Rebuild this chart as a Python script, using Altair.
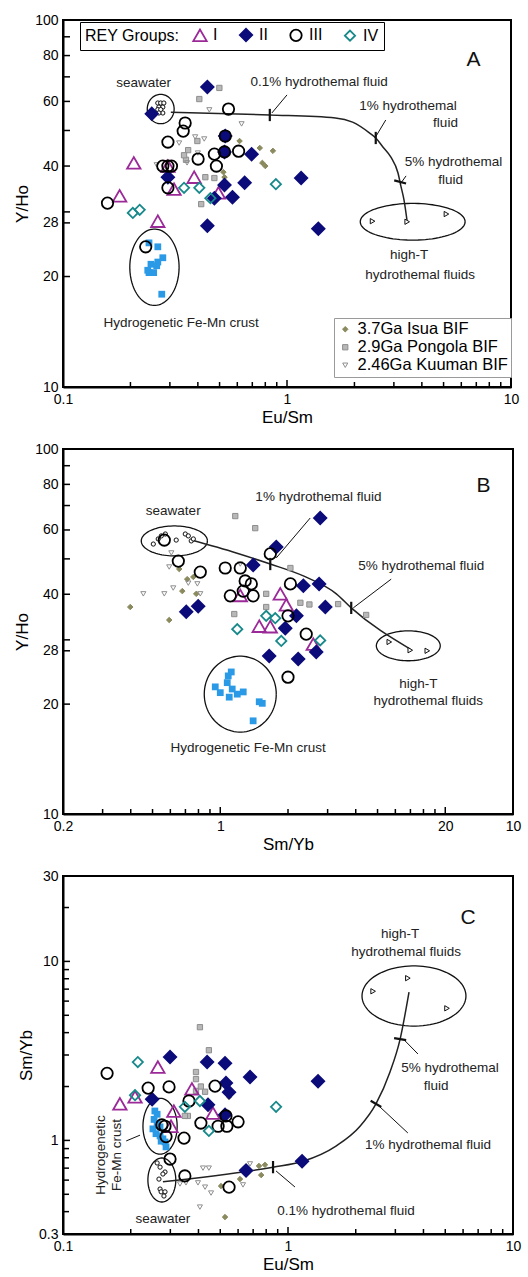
import altair as alt
import numpy as np
import pandas as pd

FONT = "Liberation Sans"

GROUPS = ["I", "II", "III", "IV"]
GROUP_STROKE = ["#9B2A98", "#0B0B7A", "#000000", "#17898A"]
GROUP_FILL = ["transparent", "#0B0B7A", "transparent", "transparent"]
GROUP_SHAPE = ["triangle-up", "diamond", "circle", "diamond"]
GROUP_SIZE = [180, 105, 260, 150]

BIF = ["3.7Ga Isua BIF", "2.9Ga Pongola BIF", "2.46Ga Kuuman BIF"]
BIF_STROKE = ["#8A8A5E", "#8E8E8E", "#8E8E8E"]
BIF_FILL = ["#8A8A5E", "#B8B8B8", "transparent"]
BIF_SHAPE = ["diamond", "square", "triangle-down"]
BIF_SIZE = [30, 26, 40]

# ---------------- Panel A : Y/Ho vs Eu/Sm ----------------
A_I_x = [0.207, 0.294, 0.385, 0.313, 0.494, 0.179, 0.265]
A_I_y = [40.8, 40.0, 37.3, 34.6, 33.8, 33.2, 28.3]
A_II_x = [0.441, 0.249, 0.53, 0.526, 0.695, 1.156, 0.647, 0.526, 0.294, 0.571, 0.474, 0.441, 1.38]
A_II_y = [65.7, 55.5, 48.3, 43.7, 43.1, 37.1, 36.0, 35.5, 37.3, 32.9, 32.7, 27.5, 27.0]
A_III_x = [0.548, 0.351, 0.344, 0.294, 0.401, 0.474, 0.526, 0.608, 0.484, 0.279, 0.294, 0.305, 0.294, 0.158, 0.234, 0.53]
A_III_y = [57.2, 52.4, 49.8, 46.5, 41.8, 43.1, 43.7, 43.9, 40.0, 40.0, 40.0, 40.0, 34.9, 31.7, 24.1, 48.3]
A_IV_x = [0.892, 0.347, 0.406, 0.455, 0.205, 0.220]
A_IV_y = [35.7, 34.9, 34.9, 32.7, 29.8, 30.4]
A_isua_x = [0.614, 0.756, 0.865, 0.776, 0.80, 0.526, 0.52]
A_isua_y = [46.8, 44.8, 44.0, 40.8, 40.0, 37.3, 38.5]
A_pong_x = [0.499, 0.406, 0.398, 0.362, 0.354, 0.432, 0.474, 0.414, 0.347]
A_pong_y = [65.3, 60.9, 46.8, 44.2, 41.6, 37.3, 37.1, 31.5, 42.8]
A_kuum_x = [0.45, 0.627, 0.389, 0.427, 0.33, 0.40, 0.262, 0.358]
A_kuum_y = [56.9, 52.1, 48.0, 47.4, 46.2, 43.4, 40.3, 40.8]
A_femn_x = [0.242, 0.265, 0.279, 0.265, 0.247, 0.239, 0.262, 0.254, 0.242, 0.276]
A_femn_y = [24.7, 24.1, 22.5, 21.9, 21.6, 20.8, 21.4, 20.5, 20.5, 17.9]
A_sw_x = [0.265, 0.273, 0.282, 0.268, 0.279, 0.265, 0.273, 0.279, 0.268]
A_sw_y = [59.4, 59.4, 59.4, 57.9, 57.9, 57.0, 57.0, 55.8, 55.8]
A_ht_x = [2.41, 3.44, 5.15]
A_ht_y = [28.3, 28.2, 29.6]
A_curve_x = [0.303, 0.838, 1.645, 1.963, 2.34, 2.49, 2.68, 2.91, 3.13, 3.23, 3.33, 3.44]
A_curve_y = [56.1, 55.1, 54.1, 52.7, 49.2, 47.7, 45.1, 42.3, 38.3, 35.1, 32.3, 28.2]
A_mark_x = [0.838, 2.49, 3.2]
A_mark_y = [55.1, 47.7, 36.2]
A_mark_angle = [90, 90, 15]
# ellipses: centre x, centre y, half-width (decades), half-height (decades)
A_ell_cx = [0.273, 0.256, 3.64]
A_ell_cy = [57.2, 21.2, 28.2]
A_ell_rx = [0.060, 0.110, 0.234]
A_ell_ry = [0.040, 0.104, 0.050]
A_txt = ["seawater", "0.1% hydrothemal fluid", "1% hydrothemal", "fluid", "5% hydrothemal",
         "fluid", "high-T", "hydrothemal fluids", "Hydrogenetic Fe-Mn crust"]
A_txt_x = [0.229, 1.39, 3.47, 5.10, 5.54, 5.37, 3.51, 3.93, 0.337]
A_txt_y = [67.3, 67.8, 58.3, 52.4, 41.0, 36.6, 22.9, 20.2, 14.9]
A_ptr_x = [1.0, 2.76, 3.40]
A_ptr_y = [62.5, 53.4, 37.6]
A_ptr_x2 = [0.856, 2.47, 3.20]
A_ptr_y2 = [55.8, 47.7, 35.7]
A_letter = ("A", 6.81, 77.8)

# ---------------- Panel B : Y/Ho vs Sm/Yb ----------------
B_I_x = [1.227, 1.848, 1.965, 1.49, 1.668, 2.59]
B_I_y = [39.7, 40.1, 37.4, 32.7, 32.6, 29.2]
B_II_x = [2.78, 1.774, 1.40, 2.34, 2.75, 2.93, 0.798, 0.706, 2.18, 1.945, 1.65, 2.22, 2.67]
B_II_y = [64.7, 53.9, 48.1, 42.2, 42.7, 36.9, 37.1, 35.8, 34.9, 32.3, 27.1, 26.6, 27.8]
B_III_x = [0.564, 0.651, 0.815, 1.052, 1.227, 1.29, 1.374, 1.108, 1.40, 1.265, 1.668, 2.05, 2.0, 2.41, 2.0]
B_III_y = [56.3, 49.3, 46.0, 47.2, 47.2, 43.5, 42.7, 39.6, 39.6, 40.8, 51.6, 42.7, 34.9, 31.1, 23.7]
B_IV_x = [1.19, 1.6, 1.755, 1.867, 2.78]
B_IV_y = [32.1, 34.9, 34.4, 29.8, 29.9]
B_isua_x = [0.398, 0.657, 0.713, 0.678, 0.782, 0.759, 0.593]
B_isua_y = [36.9, 46.9, 44.0, 40.8, 40.1, 44.6, 34.0]
B_pong_x = [1.166, 1.43, 2.05, 2.27, 2.49, 3.34, 1.6, 1.6, 1.154, 4.45]
B_pong_y = [65.5, 60.7, 47.2, 37.9, 37.5, 37.6, 40.1, 36.9, 35.3, 35.1]
B_kuum_x = [0.606, 0.593, 0.618, 0.455, 0.564, 0.721, 0.791, 0.815, 1.227]
B_kuum_y = [51.9, 47.5, 41.6, 40.1, 40.1, 42.9, 42.7, 40.1, 48.4]
B_femn_x = [0.95, 1.0, 1.074, 1.119, 1.085, 1.13, 1.096, 1.19, 1.265, 1.49, 1.537, 1.40]
B_femn_y = [22.3, 21.5, 22.9, 24.5, 23.9, 22.0, 20.9, 21.3, 21.6, 20.3, 20.1, 18.0]
B_sw_x = [0.504, 0.53, 0.547, 0.57, 0.637, 0.699, 0.721, 0.743, 0.759]
B_sw_y = [54.9, 56.7, 57.8, 58.5, 56.3, 58.5, 57.8, 56.0, 56.7]
B_ht_x = [5.64, 6.99, 8.32]
B_ht_y = [29.6, 28.1, 28.0]
B_curve_x = [0.743, 1.178, 1.668, 2.34, 3.28, 3.82, 6.99]
B_curve_y = [56.3, 51.9, 48.4, 44.9, 40.1, 36.7, 28.3]
B_mark_x = [1.668, 3.82]
B_mark_y = [48.4, 36.7]
B_mark_angle = [90, 90]
B_ell_cx = [0.625, 1.227, 6.85]
B_ell_cy = [56.0, 21.3, 28.9]
B_ell_rx = [0.147, 0.160, 0.142]
B_ell_ry = [0.041, 0.104, 0.041]
B_txt = ["seawater", "1% hydrothemal fluid", "5% hydrothemal fluid", "high-T",
         "hydrothemal fluids", "Hydrogenetic Fe-Mn crust"]
B_txt_x = [0.618, 2.73, 7.82, 7.59, 8.40, 1.33]
B_txt_y = [67.6, 73.9, 47.8, 22.7, 20.4, 15.2]
B_ptr_x = [2.51, 5.75]
B_ptr_y = [64.7, 44.0]
B_ptr_x2 = [1.774, 3.90]
B_ptr_y2 = [50.3, 36.7]
B_letter = ("B", 14.8, 79.2)

# ---------------- Panel C : Sm/Yb vs Eu/Sm ----------------
C_I_x = [0.264, 0.179, 0.209, 0.374, 0.311, 0.464, 0.302]
C_I_y = [2.57, 1.60, 1.75, 1.94, 1.46, 1.42, 1.20]
C_II_x = [0.299, 0.437, 0.525, 0.678, 1.36, 0.53, 0.547, 0.249, 0.441, 0.525, 0.651, 1.155]
C_II_y = [2.92, 2.74, 2.70, 2.26, 2.14, 2.09, 1.86, 1.70, 1.58, 1.39, 0.68, 0.765]
C_III_x = [0.157, 0.239, 0.296, 0.474, 0.363, 0.275, 0.287, 0.345, 0.41, 0.489, 0.535, 0.60, 0.53, 0.284, 0.299, 0.348, 0.547]
C_III_y = [2.37, 1.96, 1.99, 2.01, 1.66, 1.22, 1.05, 1.03, 1.25, 1.20, 1.20, 1.27, 1.37, 1.20, 0.787, 0.633, 0.548]
C_IV_x = [0.215, 0.209, 0.348, 0.406, 0.445, 0.885]
C_IV_y = [2.74, 1.79, 1.54, 1.66, 1.13, 1.54]
C_isua_x = [0.743, 0.79, 0.76, 0.612, 0.525, 0.504, 0.547]
C_isua_y = [0.72, 0.73, 0.64, 0.608, 0.373, 0.556, 1.75]
C_pong_x = [0.406, 0.445, 0.39, 0.39, 0.39, 0.428, 0.359, 0.41, 0.348]
C_pong_y = [4.29, 3.19, 2.41, 2.2, 1.89, 1.87, 1.37, 2.0, 1.37]
C_kuum_x = [0.419, 0.445, 0.678, 0.331, 0.352, 0.398, 0.428, 0.455, 0.406, 0.631]
C_kuum_y = [0.70, 0.70, 0.739, 0.571, 0.579, 0.579, 0.548, 0.508, 0.424, 0.564]
C_femn_x = [0.256, 0.262, 0.254, 0.262, 0.251, 0.259, 0.27, 0.27, 0.278, 0.284, 0.287, 0.273]
C_femn_y = [1.46, 1.40, 1.31, 1.24, 1.16, 1.09, 1.19, 1.06, 1.02, 0.98, 0.92, 0.99]
C_sw_x = [0.262, 0.27, 0.284, 0.278, 0.267, 0.27, 0.273, 0.284, 0.281]
C_sw_y = [0.748, 0.709, 0.666, 0.649, 0.608, 0.535, 0.516, 0.516, 0.489]
C_ht_x = [2.39, 3.41, 5.09]
C_ht_y = [6.81, 8.06, 5.47]
C_curve_x = [0.278, 0.858, 1.166, 1.634, 2.09, 2.46, 2.84, 3.15, 3.45]
C_curve_y = [0.587, 0.709, 0.765, 0.93, 1.20, 1.60, 2.41, 3.68, 6.74]
C_mark_x = [0.858, 2.46, 3.15]
C_mark_y = [0.709, 1.60, 3.68]
C_mark_angle = [90, 30, 10]
C_ell_cx = [0.275, 0.27, 3.63]
C_ell_cy = [0.601, 1.20, 6.41]
C_ell_rx = [0.062, 0.076, 0.231]
C_ell_ry = [0.123, 0.156, 0.168]
C_txt = ["seawater", "0.1% hydrothemal fluid", "1% hydrothemal fluid", "5% hydrothemal",
         "fluid", "high-T", "hydrothemal fluids"]
C_txt_x = [0.278, 1.81, 4.19, 5.25, 4.55, 3.15, 3.35]
C_txt_y = [0.363, 0.404, 0.942, 2.54, 2.02, 14.2, 11.3]
C_vtxt = ["Hydrogenetic", "Fe-Mn crust"]
C_vtxt_x = [0.147, 0.174]
C_vtxt_y = [0.828, 0.828]
C_ptr_x = [0.191, 1.074, 3.41, 3.78]
C_ptr_y = [0.993, 0.549, 1.10, 3.04]
C_ptr_x2 = [0.22, 0.885, 2.56, 3.25]
C_ptr_y2 = [1.07, 0.675, 1.54, 3.69]
C_letter = ("C", 6.31, 17.4)

# ---------------- axes: labels and inward tick positions ----------------
EU_LABELS = [(0.1, "0.1"), (1, "1"), (10, "10")]
EU_TICK_MAJOR = [1]
EU_TICK_MINOR = [0.2, 0.3, 0.4, 0.5, 0.6, 0.7, 0.8, 0.9, 2, 3, 4, 5, 6, 7, 8, 9]
SMYB_LABELS = [(0.2, "0.2"), (1, "1"), (10, "20"), (20, "10")]
SMYB_TICK_MAJOR = [1, 10]
SMYB_TICK_MINOR = [0.3, 0.4, 0.5, 0.6, 0.7, 0.8, 0.9, 2, 3, 4, 5, 6, 7, 8, 9]
YHO_LABELS = [(10, "10"), (20, "20"), (28, "28"), (40, "40"), (60, "60"), (80, "80"), (100, "100")]
YHO_TICK_MAJOR = [20, 28, 30, 40, 50, 60, 70, 80, 90]
YHO_TICK_MINOR = []
SMYB_Y_LABELS = [(0.3, "0.3"), (1, "1"), (10, "10"), (30, "30")]
SMYB_Y_TICK_MAJOR = [1, 10]
SMYB_Y_TICK_MINOR = [0.4, 0.5, 0.6, 0.7, 0.8, 0.9, 2, 3, 4, 5, 6, 7, 8, 9, 20]


def lab_expr(pairs):
    s = "''"
    for v, t in reversed(pairs):
        s = f"datum.value == {v} ? '{t}' : ({s})"
    return s


def make_axis(pairs, title):
    return alt.Axis(values=[p[0] for p in pairs], labelExpr=lab_expr(pairs), title=title,
                    ticks=False, labelPadding=5, grid=False, labelFlush=False, labelOverlap=False)


def ellipse_frame(cx, cy, rx, ry):
    rows = []
    t = np.linspace(0, 2 * np.pi, 91)
    for k in range(len(cx)):
        for i, tt in enumerate(t):
            rows.append({"x": cx[k] * 10 ** (rx[k] * np.cos(tt)),
                         "y": cy[k] * 10 ** (ry[k] * np.sin(tt)), "id": k, "o": i})
    return pd.DataFrame(rows)


def panel(P, legend, w, h):
    X = alt.X("x:Q", scale=alt.Scale(type="log", domain=P["xdom"], nice=False), axis=P["xaxis"])
    Y = alt.Y("y:Q", scale=alt.Scale(type="log", domain=P["ydom"], nice=False), axis=P["yaxis"])

    rows = []
    for g, xs, ys in zip(GROUPS, P["gx"], P["gy"]):
        rows += [{"x": a, "y": b, "g": g} for a, b in zip(xs, ys)]
    rey = pd.DataFrame(rows)
    rows = []
    for g, xs, ys in zip(BIF, P["bx"], P["by"]):
        rows += [{"x": a, "y": b, "b": g} for a, b in zip(xs, ys)]
    bif = pd.DataFrame(rows)

    if legend:
        rleg = alt.Legend(orient="none", legendX=17, legendY=2, direction="horizontal",
                          titleOrient="left", titleFontSize=16, titleFontWeight="normal",
                          titleFont=FONT, labelFont=FONT, labelFontSize=16, strokeColor="black",
                          fillColor="white", padding=5, columnPadding=18, labelOffset=5,
                          symbolStrokeWidth=1.8, titlePadding=12, titleColor="black",
                          labelColor="black")
        bleg = alt.Legend(orient="none", legendX=271, legendY=298, direction="vertical",
                          labelFontSize=16.5, labelFont=FONT, strokeColor="#9a9a9a",
                          fillColor="white", padding=3, rowPadding=1, labelOffset=4,
                          symbolStrokeWidth=1, labelColor="black")
    else:
        rleg = None
        bleg = None
    rtitle = "REY Groups:"

    layers = []
    # inward axis ticks (left and bottom)
    for vals, L in ((P["ly_major"], 7), (P["ly_minor"], 6)):
        if vals:
            d = pd.DataFrame({"x": [P["xdom"][0]] * len(vals), "y": vals})
            layers.append(alt.Chart(d).mark_point(shape="stroke", size=L * L, stroke="black",
                                                  strokeWidth=1.5, opacity=1, xOffset=L / 2).encode(x=X, y=Y))
    for vals, L in ((P["bx_major"], 7), (P["bx_minor"], 5)):
        if vals:
            d = pd.DataFrame({"x": vals, "y": [P["ydom"][0]] * len(vals)})
            layers.append(alt.Chart(d).mark_point(shape="stroke", size=L * L, stroke="black", angle=90,
                                                  strokeWidth=1.5, opacity=1, yOffset=-L / 2).encode(x=X, y=Y))
    # ellipses
    layers.append(alt.Chart(ellipse_frame(P["ecx"], P["ecy"], P["erx"], P["ery"])).mark_line(
        color="#111", strokeWidth=1.3).encode(x=X, y=Y, detail="id:N", order="o:Q"))
    # mixing curve
    cdf = pd.DataFrame({"x": P["cx"], "y": P["cy"]})
    layers.append(alt.Chart(cdf).mark_line(color="#222", strokeWidth=1.5, interpolate="monotone").encode(x=X, y=Y))
    # pointer lines
    pdf = pd.DataFrame({"x": P["px"], "y": P["py"], "x2": P["px2"], "y2": P["py2"]})
    layers.append(alt.Chart(pdf).mark_rule(color="#111", strokeWidth=1).encode(
        x=X, y=Y, x2="x2:Q", y2="y2:Q"))
    # BIF data
    layers.append(alt.Chart(bif).mark_point(opacity=1, strokeWidth=1).encode(
        x=X, y=Y,
        stroke=alt.Stroke("b:N", scale=alt.Scale(domain=BIF, range=BIF_STROKE), legend=bleg, title=None),
        fill=alt.Fill("b:N", scale=alt.Scale(domain=BIF, range=BIF_FILL), legend=bleg, title=None),
        shape=alt.Shape("b:N", scale=alt.Scale(domain=BIF, range=BIF_SHAPE), legend=bleg, title=None),
        size=alt.Size("b:N", scale=alt.Scale(domain=BIF, range=BIF_SIZE), legend=bleg, title=None),
    ))
    # hydrogenetic Fe-Mn crust
    fdf = pd.DataFrame({"x": P["fx"], "y": P["fy"]})
    layers.append(alt.Chart(fdf).mark_square(color="#2B9AE6", size=46, opacity=1).encode(x=X, y=Y))
    # seawater
    sdf = pd.DataFrame({"x": P["sx"], "y": P["sy"]})
    layers.append(alt.Chart(sdf).mark_point(shape="circle", size=18, stroke="#111", fill="white",
                                            strokeWidth=1, opacity=1).encode(x=X, y=Y))
    # high-T fluids
    hdf = pd.DataFrame({"x": P["hx"], "y": P["hy"]})
    layers.append(alt.Chart(hdf).mark_point(shape="triangle-right", size=28, stroke="#111", fill="white",
                                            strokeWidth=1, opacity=1).encode(x=X, y=Y))
    # REY groups
    layers.append(alt.Chart(rey).mark_point(opacity=1, strokeWidth=1.8).encode(
        x=X, y=Y,
        stroke=alt.Stroke("g:N", scale=alt.Scale(domain=GROUPS, range=GROUP_STROKE), legend=rleg, title=rtitle),
        fill=alt.Fill("g:N", scale=alt.Scale(domain=GROUPS, range=GROUP_FILL), legend=rleg, title=rtitle),
        shape=alt.Shape("g:N", scale=alt.Scale(domain=GROUPS, range=GROUP_SHAPE), legend=rleg, title=rtitle),
        size=alt.Size("g:N", scale=alt.Scale(domain=GROUPS, range=GROUP_SIZE), legend=rleg, title=rtitle),
    ))
    # % marks on the mixing curve
    mdf = pd.DataFrame({"x": P["mx"], "y": P["my"], "a": P["ma"]})
    layers.append(alt.Chart(mdf).mark_point(shape="stroke", size=150, stroke="#111", strokeWidth=2.2,
                                            opacity=1).encode(x=X, y=Y, angle=alt.Angle("a:Q", scale=None)))
    # annotation text
    tdf = pd.DataFrame({"x": P["tx"], "y": P["ty"], "t": P["tt"]})
    layers.append(alt.Chart(tdf).mark_text(font=FONT, fontSize=13.5, color="#222").encode(x=X, y=Y, text="t:N"))
    if "vt" in P:
        vdf = pd.DataFrame({"x": P["vx"], "y": P["vy"], "t": P["vt"]})
        layers.append(alt.Chart(vdf).mark_text(font=FONT, fontSize=13.5, color="#222", angle=270).encode(
            x=X, y=Y, text="t:N"))
    ldf = pd.DataFrame({"x": [P["letter"][1]], "y": [P["letter"][2]], "t": [P["letter"][0]]})
    layers.append(alt.Chart(ldf).mark_text(font=FONT, fontSize=21, color="#111").encode(x=X, y=Y, text="t:N"))

    return alt.layer(*layers).resolve_scale(
        stroke="independent", fill="independent", shape="independent", size="independent"
    ).properties(width=w, height=h)


PA = dict(xdom=[0.1, 10], ydom=[10, 100],
          xaxis=make_axis(EU_LABELS, "Eu/Sm"), yaxis=make_axis(YHO_LABELS, "Y/Ho"),
          ly_major=YHO_TICK_MAJOR, ly_minor=YHO_TICK_MINOR, bx_major=EU_TICK_MAJOR, bx_minor=EU_TICK_MINOR,
          gx=[A_I_x, A_II_x, A_III_x, A_IV_x], gy=[A_I_y, A_II_y, A_III_y, A_IV_y],
          bx=[A_isua_x, A_pong_x, A_kuum_x], by=[A_isua_y, A_pong_y, A_kuum_y],
          fx=A_femn_x, fy=A_femn_y, sx=A_sw_x, sy=A_sw_y, hx=A_ht_x, hy=A_ht_y,
          cx=A_curve_x, cy=A_curve_y, mx=A_mark_x, my=A_mark_y, ma=A_mark_angle,
          ecx=A_ell_cx, ecy=A_ell_cy, erx=A_ell_rx, ery=A_ell_ry,
          tt=A_txt, tx=A_txt_x, ty=A_txt_y,
          px=A_ptr_x, py=A_ptr_y, px2=A_ptr_x2, py2=A_ptr_y2, letter=A_letter)
PB = dict(xdom=[0.2, 20], ydom=[10, 100],
          xaxis=make_axis(SMYB_LABELS, "Sm/Yb"), yaxis=make_axis(YHO_LABELS, "Y/Ho"),
          ly_major=YHO_TICK_MAJOR, ly_minor=YHO_TICK_MINOR, bx_major=SMYB_TICK_MAJOR, bx_minor=SMYB_TICK_MINOR,
          gx=[B_I_x, B_II_x, B_III_x, B_IV_x], gy=[B_I_y, B_II_y, B_III_y, B_IV_y],
          bx=[B_isua_x, B_pong_x, B_kuum_x], by=[B_isua_y, B_pong_y, B_kuum_y],
          fx=B_femn_x, fy=B_femn_y, sx=B_sw_x, sy=B_sw_y, hx=B_ht_x, hy=B_ht_y,
          cx=B_curve_x, cy=B_curve_y, mx=B_mark_x, my=B_mark_y, ma=B_mark_angle,
          ecx=B_ell_cx, ecy=B_ell_cy, erx=B_ell_rx, ery=B_ell_ry,
          tt=B_txt, tx=B_txt_x, ty=B_txt_y,
          px=B_ptr_x, py=B_ptr_y, px2=B_ptr_x2, py2=B_ptr_y2, letter=B_letter)
PC = dict(xdom=[0.1, 10], ydom=[0.3, 30],
          xaxis=make_axis(EU_LABELS, "Eu/Sm"), yaxis=make_axis(SMYB_Y_LABELS, "Sm/Yb"),
          ly_major=SMYB_Y_TICK_MAJOR, ly_minor=SMYB_Y_TICK_MINOR, bx_major=EU_TICK_MAJOR, bx_minor=EU_TICK_MINOR,
          gx=[C_I_x, C_II_x, C_III_x, C_IV_x], gy=[C_I_y, C_II_y, C_III_y, C_IV_y],
          bx=[C_isua_x, C_pong_x, C_kuum_x], by=[C_isua_y, C_pong_y, C_kuum_y],
          fx=C_femn_x, fy=C_femn_y, sx=C_sw_x, sy=C_sw_y, hx=C_ht_x, hy=C_ht_y,
          cx=C_curve_x, cy=C_curve_y, mx=C_mark_x, my=C_mark_y, ma=C_mark_angle,
          ecx=C_ell_cx, ecy=C_ell_cy, erx=C_ell_rx, ery=C_ell_ry,
          tt=C_txt, tx=C_txt_x, ty=C_txt_y, vt=C_vtxt, vx=C_vtxt_x, vy=C_vtxt_y,
          px=C_ptr_x, py=C_ptr_y, px2=C_ptr_x2, py2=C_ptr_y2, letter=C_letter)

pA = panel(PA, True, 448, 367)
pB = panel(PB, False, 450, 365)
pC = panel(PC, False, 450, 358)

chart = alt.vconcat(pA, pB, pC, spacing=62, bounds="flush").resolve_scale(
    stroke="independent", fill="independent", shape="independent", size="independent",
    x="independent", y="independent"
).properties(
    padding={"left": 12, "top": 12, "right": 4, "bottom": 2}
).configure_view(
    stroke="black", strokeWidth=2
).configure_axis(
    labelFont=FONT, titleFont=FONT, labelFontSize=14, titleFontSize=17,
    titleFontWeight="normal", labelColor="black", titleColor="black",
    domainColor="black", domainWidth=2, titlePadding=3
)

chart.save("out.html", embed_options={"renderer": "svg", "actions": False})
